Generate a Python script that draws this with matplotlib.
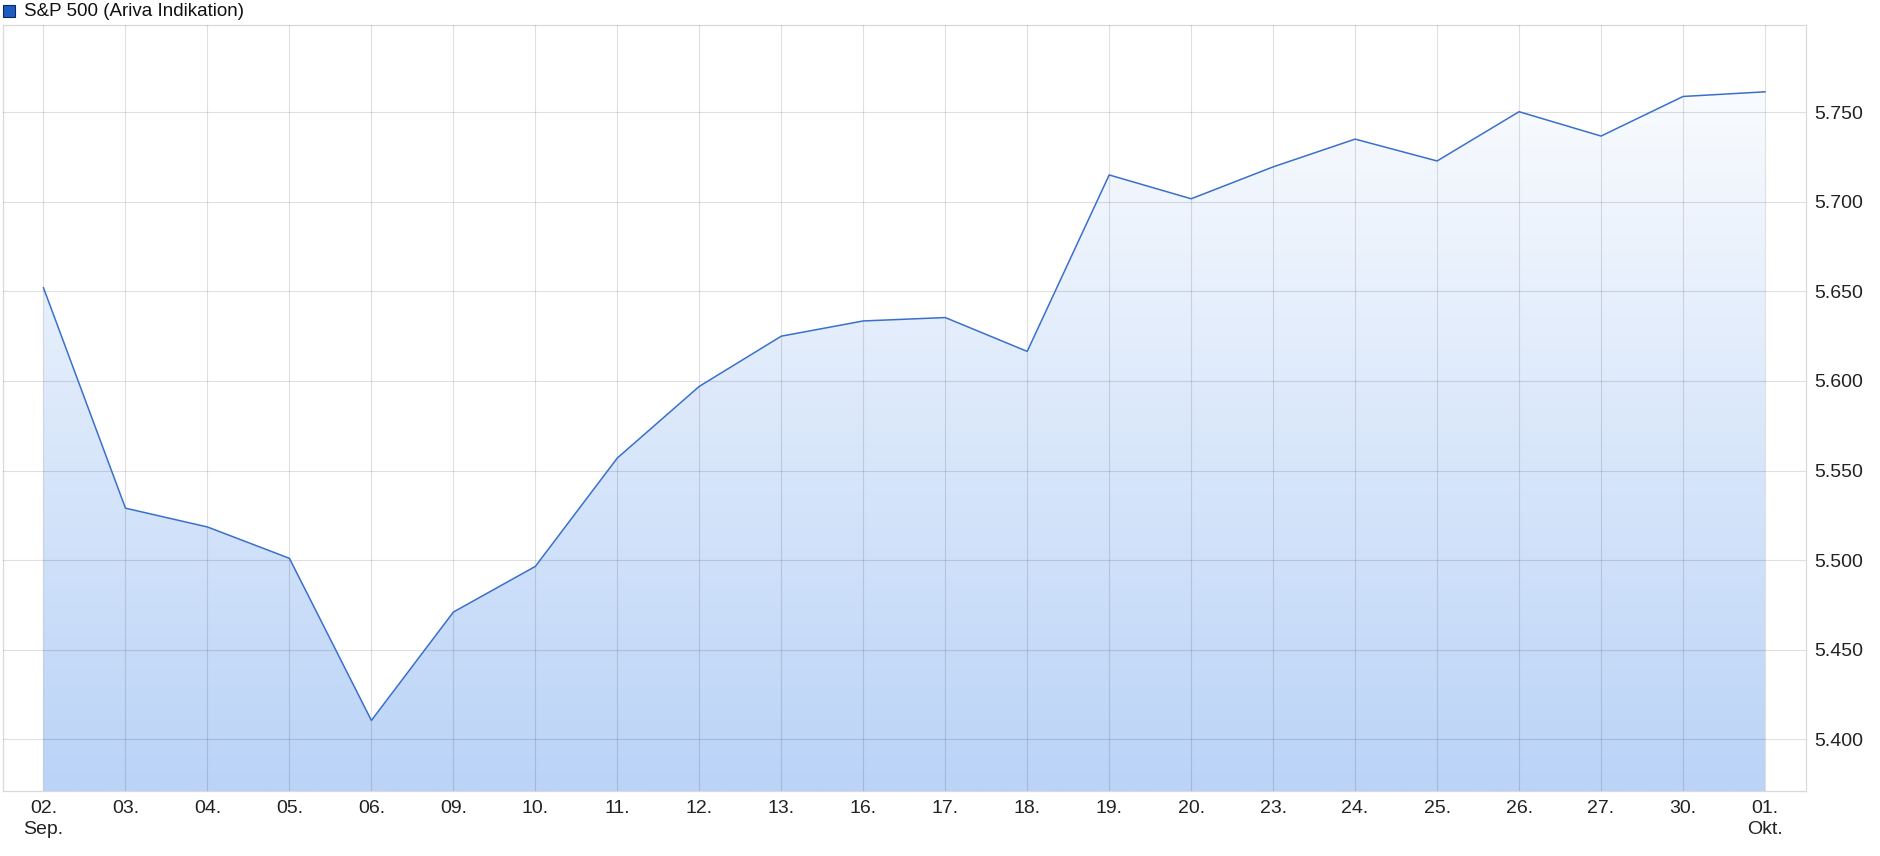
import numpy as np
import matplotlib
matplotlib.use('Agg')
import matplotlib.pyplot as plt
from matplotlib.patches import Polygon, Rectangle
from matplotlib.colors import LinearSegmentedColormap

plt.rcParams['font.family'] = ['Liberation Sans', 'DejaVu Sans']

# trading days Sep 2 -> Oct 1
days = ['02.\nSep.', '03.', '04.', '05.', '06.', '09.', '10.', '11.', '12.', '13.',
        '16.', '17.', '18.', '19.', '20.', '23.', '24.', '25.', '26.', '27.',
        '30.', '01.\nOkt.']
closes = [5652, 5529, 5518.5, 5501, 5410.5, 5471, 5496.5, 5557, 5597, 5625,
          5633.5, 5635.4, 5616.5, 5715, 5701.7, 5719.5, 5735, 5722.8, 5750.3,
          5736.7, 5758.8, 5761.4]
ytick_vals = [5400, 5450, 5500, 5550, 5600, 5650, 5700, 5750]
ytick_labels = ['5.400', '5.450', '5.500', '5.550', '5.600', '5.650', '5.700', '5.750']
series_name = 'S&P 500 (Ariva Indikation)'

x = np.arange(len(days))
y = np.array(closes)

fig = plt.figure(figsize=(18.8, 8.56), dpi=100)
ax = fig.add_axes([0.00133, 0.0759, 0.9593, 0.8949])
ymin, ymax = 5371.1, 5798.7
ax.set_xlim(-0.5, len(days) - 0.5)
ax.set_ylim(ymin, ymax)

# gradient fill under the line
cmap = LinearSegmentedColormap.from_list('fillgrad', ['#ffffff', '#bad3f7'])
grad = np.linspace(0, 1, 256).reshape(-1, 1)
im = ax.imshow(grad, cmap=cmap, aspect='auto', origin='upper',
               extent=(-0.5, len(days) - 0.5, ymin, ymax), zorder=1)
verts = [(x[0], ymin)] + list(zip(x, y)) + [(x[-1], ymin)]
poly = Polygon(verts, closed=True, facecolor='none', edgecolor='none')
ax.add_patch(poly)
im.set_clip_path(poly)

ax.plot(x, y, color='#3a70cc', lw=1.1, zorder=3)

# grid
ax.set_xticks(x)
ax.set_xticklabels(days, fontsize=14, color='#222222', linespacing=1.3)
ax.set_yticks(ytick_vals)
ax.set_yticklabels(ytick_labels, fontsize=14, color='#222222')
ax.yaxis.tick_right()
ax.tick_params(length=0, pad=6)
ax.tick_params(axis='x', pad=6.5)
ax.grid(True, color='black', alpha=0.12, lw=0.8, zorder=2)
ax.set_axisbelow(False)
for s in ax.spines.values():
    s.set_color('#d9d9d9')
    s.set_linewidth(0.9)

# legend box top left
fig.patches.append(Rectangle((3 / 1880, 1 - 17 / 856), 12 / 1880, 12 / 856,
                             transform=fig.transFigure, facecolor='#1f5bc0',
                             edgecolor='#0a2a66', lw=0.8))
fig.text(24 / 1880, 1 - 11 / 856, series_name, fontsize=13.5, va='center',
         ha='left', color='#111111')

plt.savefig('out.png', dpi=100)
